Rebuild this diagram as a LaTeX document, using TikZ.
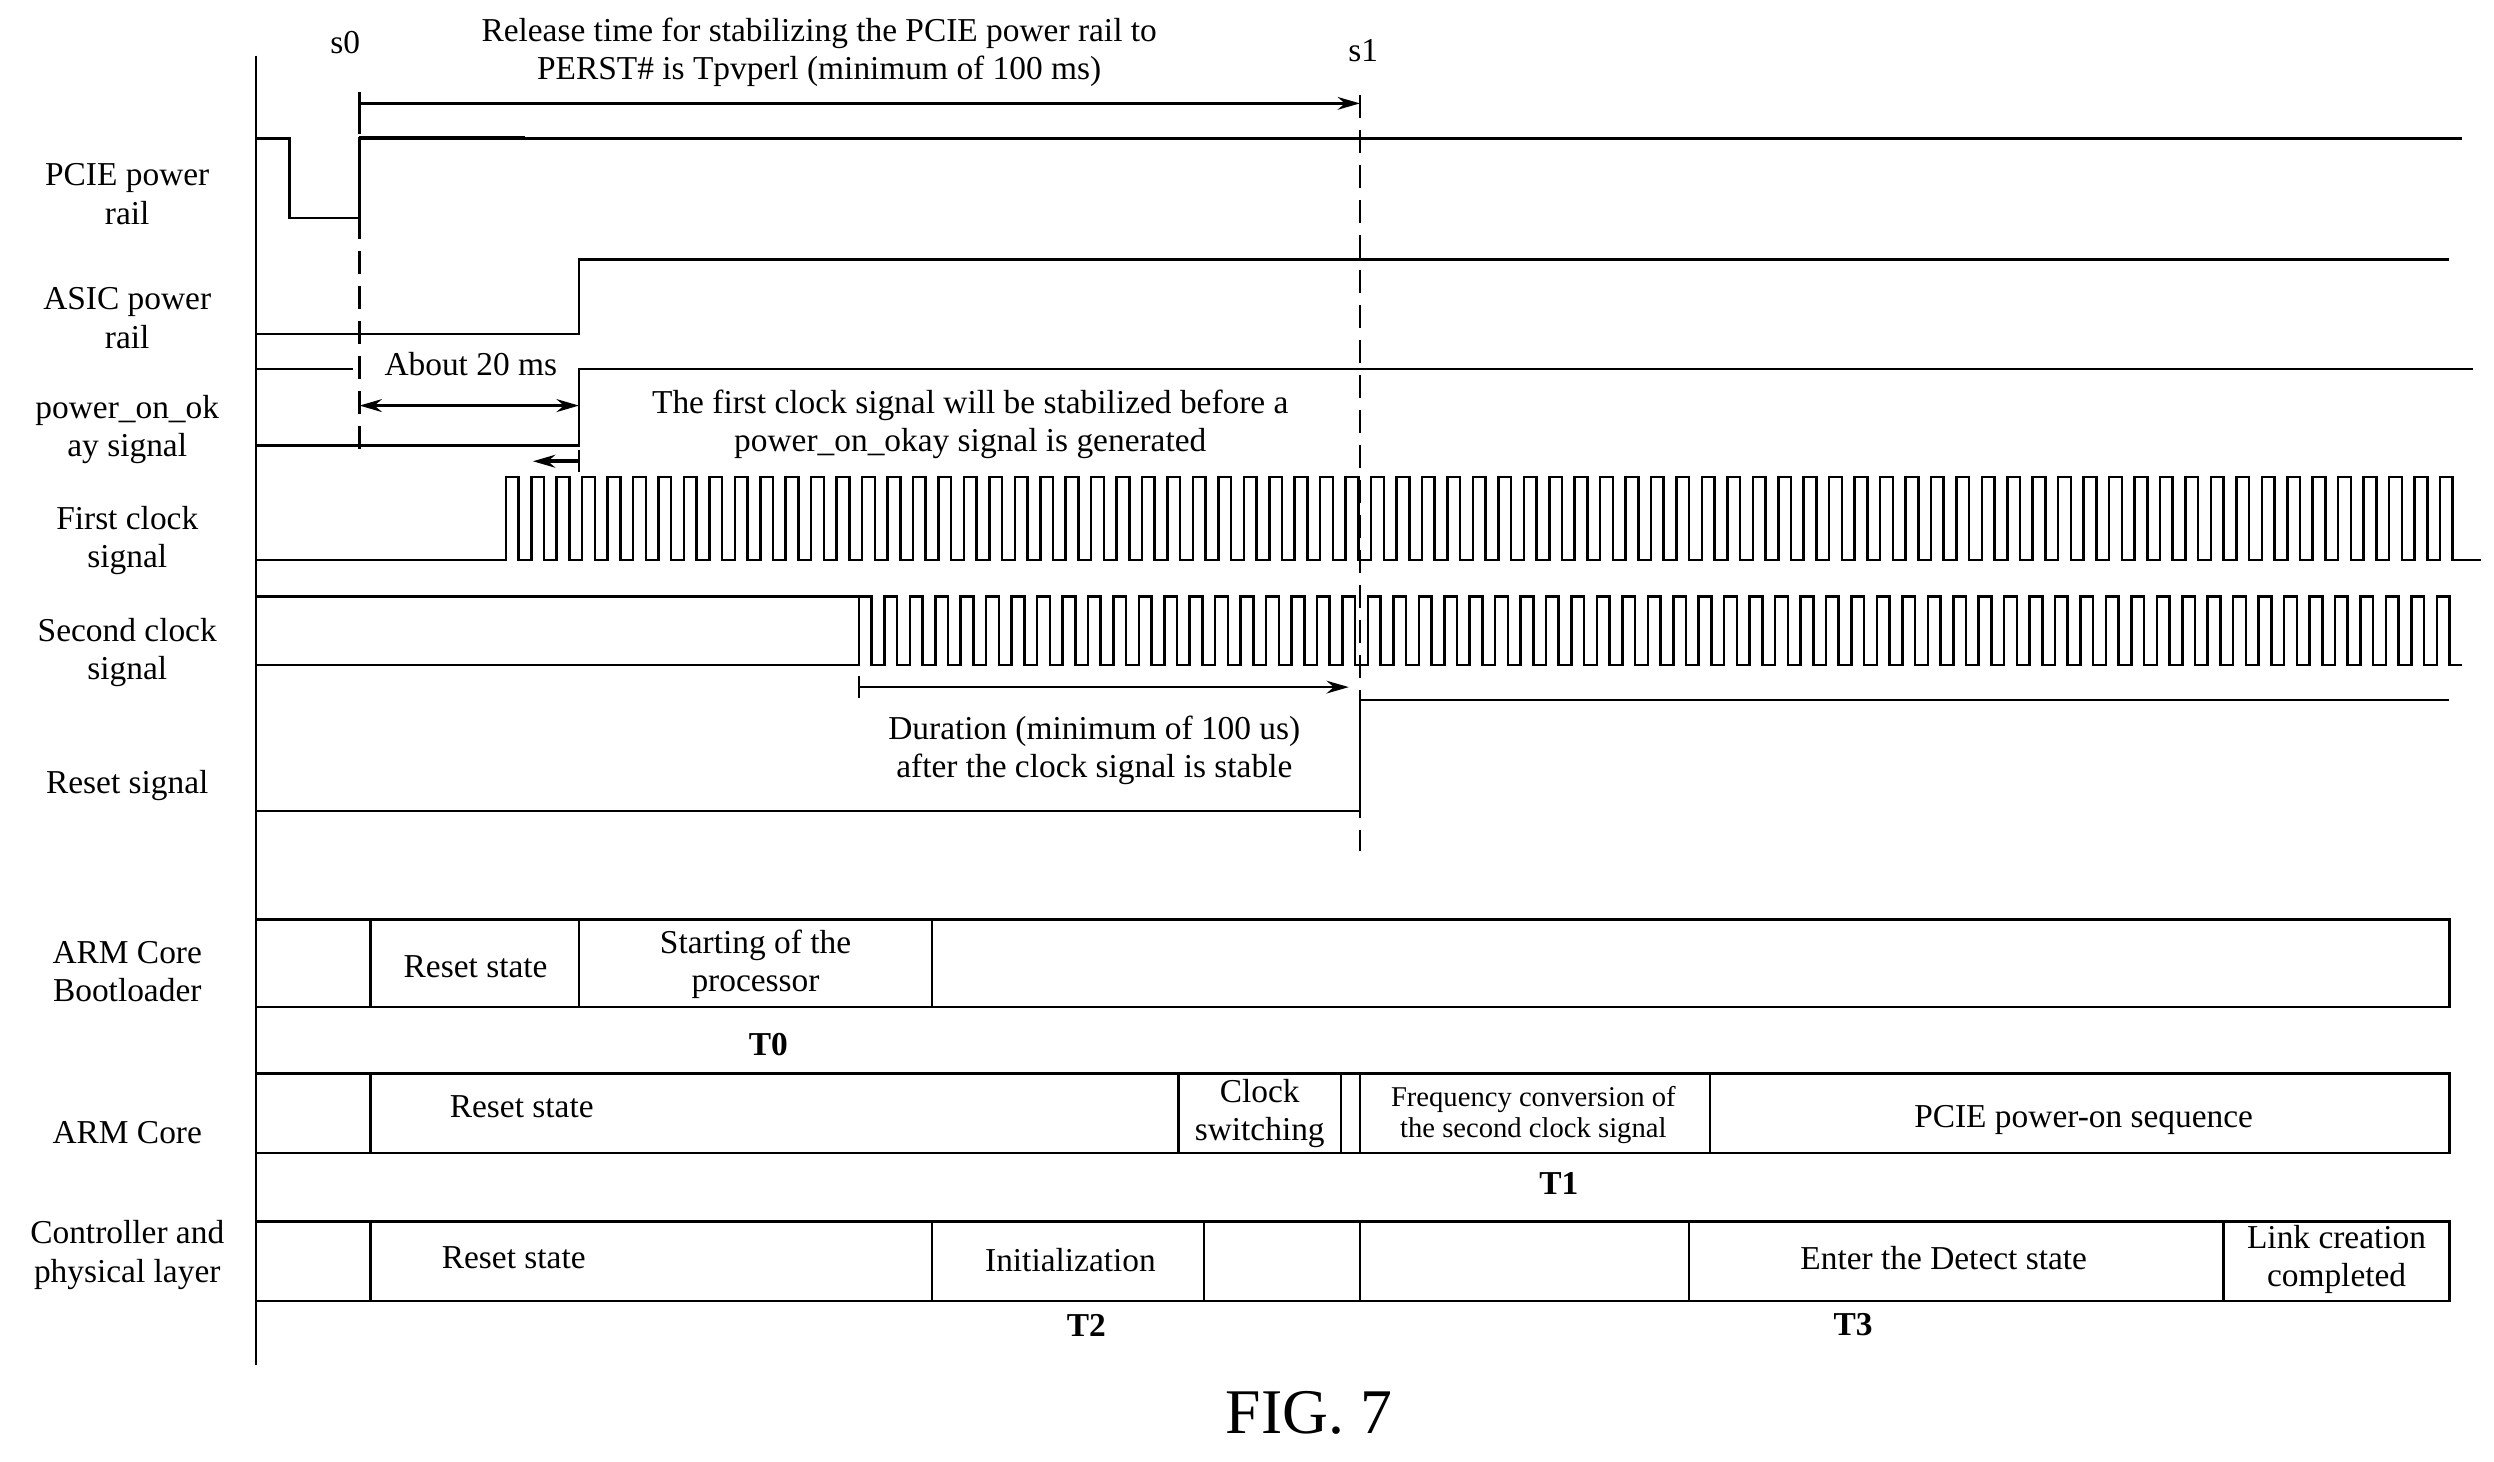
\documentclass[tikz,border=0pt]{standalone}
\usepackage{fontspec}
\setmainfont{Liberation Serif}
\usetikzlibrary{arrows.meta}
\begin{document}
\begin{tikzpicture}[x=0.5pt,y=-0.5pt,
  lbl/.style={font=\fontsize{10.5}{12}\selectfont,align=center,inner sep=0pt},
  sml/.style={font=\fontsize{9}{10}\selectfont,align=center,inner sep=0pt},
  bld/.style={font=\fontsize{10.5}{12}\selectfont\bfseries,inner sep=0pt},
  wave/.style={line width=0.8pt},
  dsh/.style={dashed,dash pattern=on 7pt off 4pt,line width=0.8pt},
  arr/.style={-{Stealth[length=7pt,width=4pt]},line width=0.8pt}]
\useasboundingbox (0,0) rectangle (1568,919);
\draw[line width=0.8pt] (161,35) -- (161,858);
% labels
\node[lbl] (l1) at (80,122) {PCIE power\\rail};
\node[lbl] (l2) at (80,200) {ASIC power\\rail};
\node[lbl] (l3) at (80,270) {power\_on\_ok\\ay signal};
\node[lbl] (l4) at (80,340) {First clock\\signal};
\node[lbl] (l5) at (80,410) {Second clock\\signal};
\node[lbl] (l6) at (80,494) {Reset signal};
\node[lbl] (l7) at (80,611) {ARM Core\\Bootloader};
\node[lbl] (l8) at (80,712) {ARM Core};
\node[lbl] (l9) at (80,789) {Controller and\\physical layer};
% waves
\draw[wave] (161,87) -- (182,87) -- (182,137) -- (226,137) -- (226,87) -- (1548,87);
\draw[line width=1.3pt] (226,87) -- (330,87);
\draw[wave] (161,210) -- (364,210) -- (364,163) -- (1540,163);
\draw[wave] (161,232) -- (222,232);
\draw[wave] (161,280) -- (364,280) -- (364,232) -- (1555,232);
\draw[wave] (161,352) -- (318,352) \foreach \i in {0,...,76} {-- ++(0,-52) -- ++(8,0) -- ++(0,52) -- ++(8,0)} -- ++(10,0);
\draw[wave] (161,375) -- (540,375);
\draw[wave] (161,418) -- (540,418) \foreach \i in {0,...,62} {-- ++(0,-43) -- ++(8,0) -- ++(0,43) -- ++(8,0)};
\draw[wave] (161,510) -- (855,510) -- (855,440) -- (1540,440);
% markers
\coordinate (s0t) at (226,70); \coordinate (s0b) at (226,288);
\coordinate (s1t) at (855,60); \coordinate (s1b) at (855,535);
\draw[dsh] (s0t) -- (s0b);
\draw[dsh] (s1t) -- (s1b);
\node[lbl] (s0) at (217,27) {s0};
\node[lbl] (s1) at (857,32) {s1};
\coordinate (a1) at (226,65); \coordinate (a2) at (855,65);
\draw[arr] (a1) -- (a2);
\draw[wave] (226,58) -- (226,72);
\node[lbl] (t1) at (515,33) {Release time for stabilizing the PCIE power rail to\\PERST\# is Tpvperl (minimum of 100 ms)};
\coordinate (b1) at (226,255); \coordinate (b2) at (364,255);
\draw[{Stealth[length=7pt,width=4pt]}-{Stealth[length=7pt,width=4pt]},line width=1.2pt] (b1) -- (b2);
\node[lbl] (t2) at (296,229) {About 20 ms};
\coordinate (c1) at (364,290); \coordinate (c2) at (335,290);
\draw[arr,line width=1.2pt] (c1) -- (c2);
\draw[wave] (364,283) -- (364,297);
\node[lbl] (t3) at (610,267) {The first clock signal will be stabilized before a\\power\_on\_okay signal is generated};
\coordinate (d1) at (540,432); \coordinate (d2) at (848,432);
\draw[arr] (d1) -- (d2);
\draw[wave] (540,425) -- (540,439);
\node[lbl] (t4) at (688,472) {Duration (minimum of 100 us)\\after the clock signal is stable};
% rows
\draw[wave] (161,578) -- (1540,578) -- (1540,633) -- (161,633);
\foreach \x in {233,364,586} \draw[wave] (\x,578) -- (\x,633);
\node[lbl] (r1) at (299,608) {Reset state};
\node[lbl] (r2) at (475,606) {Starting of the\\processor};
\node[bld] (T0) at (483,657) {T0};
\draw[wave] (161,675) -- (1540,675) -- (1540,725) -- (161,725);
\foreach \x in {233,741,843,855,1075} \draw[wave] (\x,675) -- (\x,725);
\node[lbl] (r3) at (328,696) {Reset state};
\node[lbl] (r4) at (792,700) {Clock\\switching};
\node[sml] (r5) at (964,701) {Frequency conversion of\\the second clock signal};
\node[lbl] (r6) at (1310,704) {PCIE power-on sequence};
\node[bld] (T1) at (980,744) {T1};
\draw[wave] (161,768) -- (1540,768) -- (1540,818) -- (161,818);
\foreach \x in {233,586,757,855,1062,1398} \draw[wave] (\x,768) -- (\x,818);
\node[lbl] (r7) at (323,791) {Reset state};
\node[lbl] (r8) at (673,792) {Initialization};
\node[lbl] (r9) at (1222,791) {Enter the Detect state};
\node[lbl] (r10) at (1469,792) {Link creation\\completed};
\node[bld] (T2) at (683,833) {T2};
\node[bld] (T3) at (1165,833) {T3};
\node[font=\fontsize{20}{22}\selectfont,inner sep=0pt] (fig) at (823,888) {FIG. 7};
\end{tikzpicture}
\end{document}
